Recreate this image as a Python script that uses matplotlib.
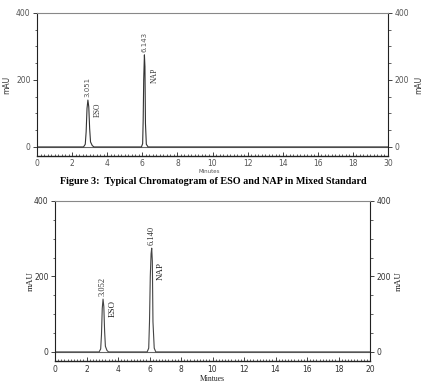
"""
Typical chromatograms of ESO and NAP (mixed standard), two traces
with the figure caption between them
"""

import numpy as np
import matplotlib
matplotlib.use('Agg')
import matplotlib.pyplot as plt
from matplotlib.ticker import MultipleLocator

## Data
# top trace: ESO and NAP peaks (minutes, mAU)
top_eso_t = [2.65, 2.75, 2.80, 2.85, 2.90, 2.95, 3.00, 3.05, 3.15, 3.25]
top_eso_y = [0, 8, 45, 115, 140, 120, 55, 15, 4, 0]
top_nap_t = [5.95, 6.02, 6.05, 6.08, 6.12, 6.15, 6.18, 6.23, 6.33]
top_nap_y = [0, 10, 80, 200, 275, 240, 70, 8, 0]
top_labels = ['3.051', '6.143']
top_name_y = [110, 215]
top_xticklabels = ['0', '2', '4', '6', '8', '10', '12', '14', '16', '18', '30']

# bottom trace
bot_eso_t = [2.80, 2.90, 2.95, 3.00, 3.05, 3.10, 3.15, 3.20, 3.30, 3.40]
bot_eso_y = [0, 8, 45, 115, 140, 120, 55, 15, 4, 0]
bot_nap_t = [5.85, 5.95, 6.00, 6.05, 6.10, 6.14, 6.18, 6.22, 6.30, 6.40]
bot_nap_y = [0, 10, 80, 200, 260, 275, 240, 80, 10, 0]
bot_labels = ['3.052', '6.140']
bot_name_y = [115, 215]
names = ['ESO', 'NAP']

caption = 'Figure 3:  Typical Chromatogram of ESO and NAP in Mixed Standard'

fig = plt.figure(figsize=(4.26, 3.84), dpi=100)


def trace(eso_t, eso_y, nap_t, nap_y):
    t = [0.0] + eso_t + nap_t + [20.0]
    y = [0.0] + eso_y + nap_y + [0.0]
    return t, y


def setup(ax, ymin, tick_col, xpad):
    ax.set_xlim(0, 20)
    ax.set_ylim(ymin, 400)
    ax.spines['bottom'].set_visible(False)
    ax.spines['top'].set_color('#888888')
    ax.spines['left'].set_color('#222222')
    ax.spines['right'].set_color('#222222')
    for s in ax.spines.values():
        s.set_linewidth(0.8)
    ax.axhline(0, color='#666666', lw=0.8)
    # x tick ruler just under the baseline
    ax.axhline(ymin, color='#222222', lw=1.0, clip_on=False)
    ax.set_xticks(np.arange(0, 21, 2))
    ax.xaxis.set_minor_locator(MultipleLocator(0.2))
    ax.tick_params(axis='x', which='both', direction='in', bottom=True,
                   colors='#222222', labelcolor=tick_col, labelsize=5.5, pad=xpad)
    ax.tick_params(axis='x', which='major', length=3, width=0.6)
    ax.tick_params(axis='x', which='minor', length=1.8, width=0.5)
    ax.set_yticks([0, 200, 400])
    ax.yaxis.set_minor_locator(MultipleLocator(50))
    ax.tick_params(axis='y', which='both', left=True, right=True,
                   labelleft=True, labelright=True, direction='out',
                   colors='#222222', labelcolor=tick_col, labelsize=5.5, pad=1.5)
    ax.tick_params(axis='y', which='major', length=3, width=0.6)
    ax.tick_params(axis='y', which='minor', length=1.8, width=0.5)


### Top chromatogram
ax1 = fig.add_axes([37/426, 1-156/384, 351/426, 143/384])
setup(ax1, -27, '#555555', 2)
t, y = trace(top_eso_t, top_eso_y, top_nap_t, top_nap_y)
ax1.plot(t, y, color='#333333', lw=0.8)
ax1.set_xticks(np.arange(0, 21, 2), top_xticklabels)
ax1.text(-0.085, 0.5, 'mAU', transform=ax1.transAxes, rotation=90,
         fontsize=5.5, color='#333333', ha='center', va='center')
ax1.text(1.087, 0.5, 'mAU', transform=ax1.transAxes, rotation=90,
         fontsize=5.5, color='#333333', ha='center', va='center')
ax1.text(0.49, -0.105, 'Minutes', transform=ax1.transAxes, fontsize=4,
         color='#555555', ha='center', va='center')
for pt, ph, lab, nm, yn in zip([top_eso_t[4], top_nap_t[4]], [140, 275],
                               top_labels, names, top_name_y):
    ax1.text(pt, ph + 8, lab, rotation=90, fontsize=5, color='#555555',
             ha='center', va='bottom')
    ax1.text(pt + 0.58, yn, nm, rotation=90, fontsize=5.5,
             color='#333333', ha='center', va='center', family='Liberation Serif')

### Caption
fig.text(213/426, 1-181/384, caption, ha='center', va='center',
         fontsize=7.3, fontweight='bold', family='Liberation Serif')

### Bottom chromatogram
ax2 = fig.add_axes([55/426, 1-361/384, 315/426, 160/384])
setup(ax2, -24, '#333333', 3)
t, y = trace(bot_eso_t, bot_eso_y, bot_nap_t, bot_nap_y)
ax2.plot(t, y, color='#444444', lw=0.8)
ax2.text(-0.078, 0.5, 'mAU', transform=ax2.transAxes, rotation=90,
         fontsize=6.5, color='#222222', ha='center', va='center', family='Liberation Serif')
ax2.text(1.09, 0.5, 'mAU', transform=ax2.transAxes, rotation=90,
         fontsize=6.5, color='#222222', ha='center', va='center', family='Liberation Serif')
ax2.text(0.5, -0.11, 'Mintues', transform=ax2.transAxes, fontsize=5.5,
         color='#222222', ha='center', va='center', family='Liberation Serif')
for pt, ph, lab, nm, yn in zip([bot_eso_t[4], bot_nap_t[5]], [140, 275],
                               bot_labels, names, bot_name_y):
    ax2.text(pt, ph + 8, lab, rotation=90, fontsize=6, color='#333333',
             ha='center', va='bottom', family='Liberation Serif')
    ax2.text(pt + 0.6, yn, nm, rotation=90, fontsize=6.5, color='#222222',
             ha='center', va='center', family='Liberation Serif')

plt.savefig('out.png', dpi=100)
